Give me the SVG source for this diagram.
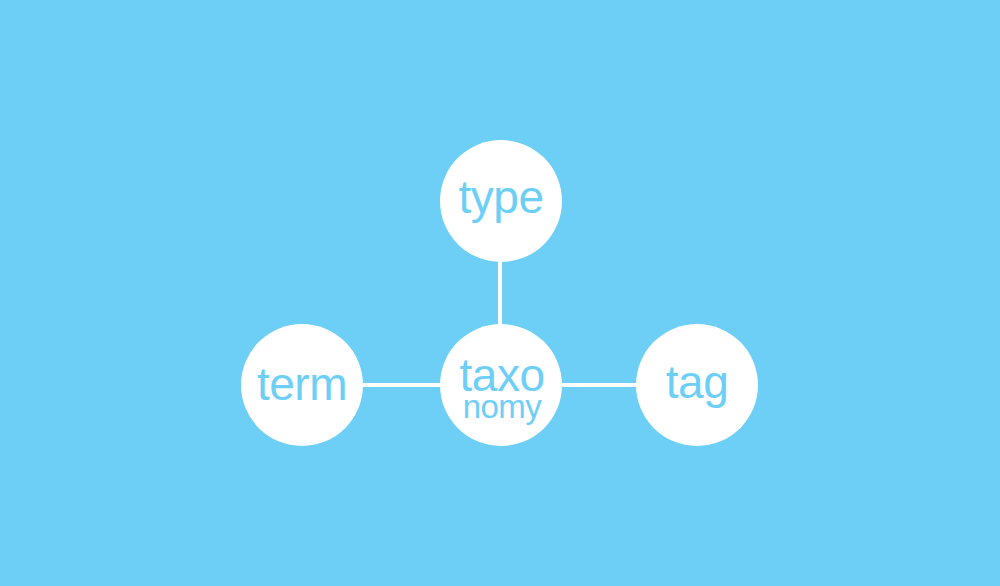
<svg xmlns="http://www.w3.org/2000/svg" width="1000" height="586" viewBox="0 0 1000 586">
<style>
.node circle{fill:#ffffff}
.node text{fill:#6dcff6;font-family:"Liberation Sans",Arial,sans-serif;font-size:46px;text-anchor:middle;letter-spacing:-0.5px}
.node text.small{font-size:33px}
.edge{stroke:#ffffff;stroke-width:4;fill:none}
</style>
<rect width="1000" height="586" fill="#6dcff6"/>
<g id="connectors">
<line class="edge" x1="500" y1="262" x2="500" y2="324"/>
<line class="edge" x1="362" y1="385" x2="440" y2="385"/>
<line class="edge" x1="560" y1="385" x2="637" y2="385"/>
</g>
<g id="node-type" class="node">
<circle cx="501" cy="201" r="61"/>
<text x="501" y="213">type</text>
</g>
<g id="node-taxonomy" class="node">
<circle cx="501" cy="385" r="61"/>
<text x="502" y="391">taxo</text>
<text class="small" x="502" y="418">nomy</text>
</g>
<g id="node-term" class="node">
<circle cx="302" cy="385" r="61"/>
<text x="302" y="400">term</text>
</g>
<g id="node-tag" class="node">
<circle cx="697" cy="385" r="61"/>
<text x="697" y="398">tag</text>
</g>
</svg>
